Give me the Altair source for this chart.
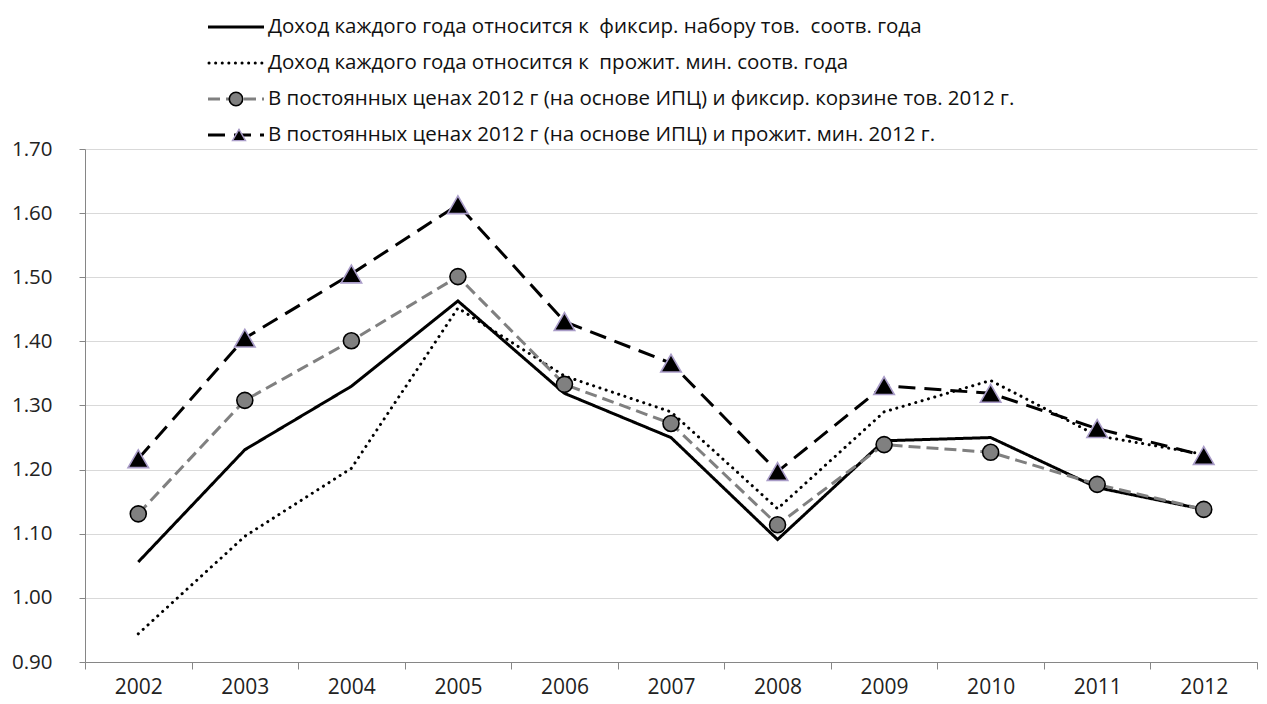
import altair as alt
import pandas as pd

years = ["2002", "2003", "2004", "2005", "2006", "2007", "2008", "2009", "2010", "2011", "2012"]

labels = [
    "Доход каждого года относится к\u00a0 фиксир. набору тов.\u00a0 соотв. года",
    "Доход каждого года относится к\u00a0 прожит. мин. соотв. года",
    "В постоянных ценах 2012 г (на основе ИПЦ) и фиксир. корзине тов. 2012 г.",
    "В постоянных ценах 2012 г (на основе ИПЦ) и прожит. мин. 2012 г.",
]

s_fixed_basket = [1.056, 1.231, 1.330, 1.463, 1.319, 1.250, 1.091, 1.245, 1.250, 1.172, 1.138]
s_subsistence = [0.944, 1.096, 1.202, 1.452, 1.346, 1.290, 1.139, 1.290, 1.339, 1.253, 1.224]
s_const_basket = [1.131, 1.308, 1.401, 1.501, 1.333, 1.272, 1.114, 1.239, 1.227, 1.177, 1.138]
s_const_subsist = [1.217, 1.405, 1.505, 1.613, 1.431, 1.366, 1.197, 1.331, 1.319, 1.264, 1.222]

series_values = [s_fixed_basket, s_subsistence, s_const_basket, s_const_subsist]

rows = []
for lab, vals in zip(labels, series_values):
    for yr, v in zip(years, vals):
        rows.append({"year": yr, "value": v, "series": lab})
df = pd.DataFrame(rows)

legend_df = pd.DataFrame({"series": labels, "row": [0, 1, 2, 3]})

FONT = "Open Sans"
colors = ["#000000", "#000000", "#808080", "#000000"]
dashes = [[1, 0], [0.1, 6.5], [12, 6], [17, 9]]
widths = [3, 3, 3.5, 3.5]

color_scale = alt.Scale(domain=labels, range=colors)
dash_scale = alt.Scale(domain=labels, range=dashes)
width_scale = alt.Scale(domain=labels, range=widths)

W = 1172

xenc = alt.X(
    "year:O",
    sort=years,
    bandPosition=0.5,
    scale=alt.Scale(type="band", paddingInner=0, paddingOuter=0),
    axis=alt.Axis(
        title=None, tickBand="extent", labelAngle=0, labelFontSize=21,
        labelFont=FONT, labelColor="#222222", labelPadding=7, tickSize=7,
        tickColor="#868686", domainColor="#868686", grid=False,
    ),
)
yenc = alt.Y(
    "value:Q",
    scale=alt.Scale(domain=[0.9, 1.7], nice=False, zero=False),
    axis=alt.Axis(
        title=None, values=[0.9, 1.0, 1.1, 1.2, 1.3, 1.4, 1.5, 1.6, 1.7],
        format=".2f", labelFontSize=20.5, labelFont=FONT, labelColor="#222222",
        tickSize=6, tickColor="#868686", domainColor="#868686",
        gridColor="#d9d9d9", gridWidth=1, labelPadding=27, minExtent=77,
    ),
)


def series_line(names):
    return alt.Chart(df[df.series.isin(names)]).mark_line(strokeCap="butt").encode(
        x=xenc, y=yenc,
        color=alt.Color("series:N", scale=color_scale, legend=None),
        strokeDash=alt.StrokeDash("series:N", scale=dash_scale, legend=None),
        strokeWidth=alt.StrokeWidth("series:N", scale=width_scale, legend=None),
    )


dotted = alt.Chart(df[df.series == labels[1]]).mark_line(
    strokeCap="round", strokeDash=[0.1, 6.5], strokeWidth=3, color="black"
).encode(x=xenc, y=yenc)

circles = alt.Chart(df[df.series == labels[2]]).mark_point(
    shape="circle", filled=True, fill="#808080", stroke="#000000", strokeWidth=1.6, size=256, opacity=1
).encode(x=xenc, y=yenc)

triangles = alt.Chart(df[df.series == labels[3]]).mark_point(
    shape="triangle-up", filled=True, fill="#000000", stroke="#a99cc8", strokeWidth=1.6, size=420, opacity=1
).encode(x=xenc, y=yenc)

main = alt.layer(
    series_line([labels[0]]),
    dotted,
    series_line([labels[2], labels[3]]),
    circles,
    triangles,
).properties(width=W, height=513)

# legend panel
ly = alt.Y("row:Q", scale=alt.Scale(domain=[0, 3], range=[19, 127]), axis=None)

leg_lines = alt.Chart(legend_df[legend_df.row != 1]).mark_rule(strokeCap="butt").encode(
    x=alt.value(123), x2=alt.value(179), y=ly,
    color=alt.Color("series:N", scale=color_scale, legend=None),
    strokeDash=alt.StrokeDash("series:N", scale=dash_scale, legend=None),
    strokeWidth=alt.StrokeWidth("series:N", scale=width_scale, legend=None),
)
leg_dotted = alt.Chart(legend_df[legend_df.row == 1]).mark_rule(
    strokeCap="round", strokeDash=[0.1, 6.5], strokeWidth=3, color="black"
).encode(x=alt.value(124), x2=alt.value(178), y=ly)

leg_circle = alt.Chart(legend_df[legend_df.row == 2]).mark_point(
    shape="circle", filled=True, fill="#808080", stroke="#000000", strokeWidth=1.6, size=180, opacity=1
).encode(x=alt.value(151), y=ly)
leg_tri = alt.Chart(legend_df[legend_df.row == 3]).mark_point(
    shape="triangle-up", filled=True, fill="#000000", stroke="#a99cc8", strokeWidth=1.4, size=170, opacity=1
).encode(x=alt.value(154), y=ly)

leg_text = alt.Chart(legend_df).mark_text(
    align="left", baseline="middle", font=FONT, fontSize=20.5, color="#111111"
).encode(x=alt.value(183), y=ly, text="series:N")

legend_panel = alt.layer(leg_lines, leg_dotted, leg_circle, leg_tri, leg_text).properties(
    width=W, height=131
)

chart = alt.vconcat(legend_panel, main, spacing=10, bounds="flush").properties(
    padding={"left": 0, "top": 0, "right": 0, "bottom": 6}, background="white"
).configure_view(strokeWidth=0, stroke="transparent")

chart.save("out.html", embed_options={"renderer": "svg", "actions": False})
